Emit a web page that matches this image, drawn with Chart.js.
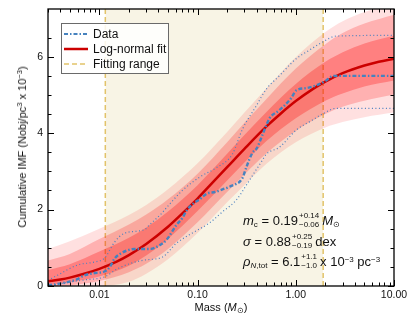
<!DOCTYPE html>
<html>
<head>
<meta charset="utf-8">
<script src="https://cdn.jsdelivr.net/npm/chart.js@4.4.1/dist/chart.umd.min.js"></script>
<style>
  body { margin: 0; background: #fff; }
  #wrap { position: relative; width: 407px; height: 326px; font-family: "Liberation Sans", Arial, sans-serif; color: #111; }
  #imfChart { position: absolute; left: 0; top: 0; }
  .ytitle { position: absolute; left: 22px; top: 147px; transform: translate(-50%, -50%) rotate(-90deg); white-space: nowrap; font-size: 11px; }
  .xtitle { position: absolute; left: 221px; top: 300px; transform: translateX(-50%); white-space: nowrap; font-size: 11px; line-height: 14px; }
  sup, sub { font-size: 7.5px; line-height: 0; }
  sup { vertical-align: 4px; }
  sub { vertical-align: -2px; }
  .legend { position: absolute; left: 61px; top: 23px; width: 108px; height: 51px; box-sizing: border-box;
            border: 1px solid #6a6a6a; background: rgba(255,255,255,0.85); padding: 2px 0 0 2px; font-size: 12px; }
  .legend .row { height: 15px; display: flex; align-items: center; white-space: nowrap; }
  .legend svg { margin-right: 5px; flex: none; }
  .note { position: absolute; left: 243px; height: 20px; line-height: 20px; white-space: nowrap; font-size: 13px; }
  .note sub, .note sup { font-size: 8px; }
  .pm { display: inline-block; vertical-align: middle; font-size: 8px; line-height: 8.5px; margin: 0 3px 0 1px; position: relative; top: -1px; }
  .pm span { display: block; }
</style>
</head>
<body>
<div id="wrap">
  <canvas id="imfChart" width="407" height="326"></canvas>
  <div class="ytitle">Cumulative IMF (Nobj/pc<sup>3</sup> x 10<sup>−3</sup>)</div>
  <div class="xtitle">Mass (<i>M</i><sub>⊙</sub>)</div>
  <div class="legend">
    <div class="row"><svg width="24" height="6"><line x1="0" y1="3" x2="24" y2="3" stroke="#4682be" stroke-width="2.2" stroke-dasharray="4 2 1.5 2"/></svg><span>Data</span></div>
    <div class="row"><svg width="24" height="6"><line x1="0" y1="3" x2="24" y2="3" stroke="#cc0000" stroke-width="2.5"/></svg><span>Log-normal fit</span></div>
    <div class="row"><svg width="24" height="6"><line x1="0" y1="3" x2="24" y2="3" stroke="#e2c36a" stroke-width="1.5" stroke-dasharray="5 3"/></svg><span>Fitting range</span></div>
  </div>
  <div class="note" style="top:211px"><i>m</i><sub>c</sub> = 0.19<span class="pm"><span>+0.14</span><span>−0.06</span></span><i>M</i><sub>⊙</sub></div>
  <div class="note" style="top:232px"><i>σ</i> = 0.88<span class="pm"><span>+0.25</span><span>−0.19</span></span>dex</div>
  <div class="note" style="top:252px"><i>ρ</i><sub><i>N</i>,tot</sub> = 6.1<span class="pm"><span>+1.1</span><span>−1.0</span></span>x 10<sup>−3</sup> pc<sup>−3</sup></div>
</div>
<script>
// axis ranges and tick labels
const xMin = 0.003, xMax = 10;
const yMin = 0, yMax = 7.25;
const xMajor = [0.01, 0.1, 1, 10];
const xLabels = ["0.01", "0.10", "1.00", "10.00"];
const yMajor = [0, 2, 4, 6];
const yLabels = ["0", "2", "4", "6"];

// fitting range (Msun)
const rangeX = [0.0115, 1.9];

// observed cumulative IMF
const dataMass = [0.003, 0.0035, 0.0047, 0.006, 0.0071, 0.009, 0.0113, 0.0128, 0.0143, 0.0165, 0.0192, 0.023, 0.033, 0.04, 0.048, 0.061, 0.07, 0.078, 0.09, 0.105, 0.125, 0.15, 0.18, 0.22, 0.286, 0.314, 0.361, 0.4, 0.457, 0.5, 0.54, 0.68, 0.9, 1.01, 1.28, 1.62, 2.04, 2.3, 2.6, 10];
const dataVal = [0.02, 0.04, 0.1, 0.18, 0.28, 0.34, 0.38, 0.5, 0.72, 0.85, 0.93, 0.97, 0.97, 1.05, 1.2, 1.6, 1.78, 1.99, 2.15, 2.27, 2.42, 2.46, 2.53, 2.62, 2.82, 3.11, 3.48, 3.6, 3.95, 4.2, 4.39, 4.6, 4.92, 5.12, 5.18, 5.25, 5.38, 5.48, 5.5, 5.5];

// dotted uncertainty envelope of the data
const upMass = [0.003, 0.0035, 0.006, 0.009, 0.0113, 0.0143, 0.018, 0.029, 0.0324, 0.043, 0.0483, 0.07, 0.105, 0.156, 0.226, 0.286, 0.397, 0.5, 0.68, 0.9, 1.01, 1.37, 1.86, 2.58, 10];
const upVal = [0.15, 0.24, 0.55, 0.63, 0.73, 1.15, 1.38, 1.48, 1.6, 1.9, 2.05, 2.5, 2.85, 3.1, 3.45, 4.1, 4.72, 5.15, 5.5, 5.83, 5.95, 6.17, 6.38, 6.54, 6.56];
const loMass = [0.003, 0.0044, 0.0071, 0.0113, 0.0153, 0.0213, 0.0289, 0.044, 0.061, 0.089, 0.132, 0.179, 0.248, 0.314, 0.397, 0.457, 0.5, 0.68, 1.01, 1.47, 1.86, 2.58, 10];
const loVal = [0.0, 0.08, 0.16, 0.24, 0.45, 0.6, 0.68, 0.76, 1.12, 1.39, 1.65, 1.94, 2.25, 2.64, 3.05, 3.29, 3.45, 3.63, 4.08, 4.34, 4.5, 4.65, 4.65];

// log-normal fit
const fitMass = [0.003, 0.004, 0.005, 0.007, 0.01, 0.015, 0.02, 0.03, 0.05, 0.07, 0.1, 0.15, 0.2, 0.3, 0.5, 0.7, 1, 1.5, 2, 3, 5, 7, 10];
const fitVal = [0.12, 0.17, 0.22, 0.32, 0.45, 0.64, 0.81, 1.10, 1.55, 1.90, 2.29, 2.77, 3.11, 3.59, 4.17, 4.51, 4.84, 5.16, 5.35, 5.57, 5.77, 5.87, 5.95];

// confidence bands around the fit
const bandMass = [0.003, 0.005, 0.01, 0.02, 0.03, 0.05, 0.1, 0.2, 0.3, 0.5, 1, 2, 3, 5, 10];
const innerHi = [0.42, 0.57, 0.90, 1.26, 1.53, 1.95, 2.64, 3.46, 3.95, 4.55, 5.29, 5.87, 6.12, 6.35, 6.55];
const innerLo = [0.02, 0.10, 0.25, 0.53, 0.80, 1.23, 1.96, 2.76, 3.23, 3.79, 4.39, 4.85, 5.04, 5.22, 5.38];
const midHi = [0.67, 0.84, 1.23, 1.61, 1.87, 2.27, 2.94, 3.76, 4.27, 4.89, 5.69, 6.33, 6.62, 6.87, 7.10];
const midLo = [0.0, 0.02, 0.13, 0.36, 0.58, 0.97, 1.67, 2.46, 2.92, 3.47, 4.06, 4.50, 4.69, 4.85, 5.01];
const outerHi = [0.97, 1.17, 1.50, 1.86, 2.12, 2.53, 3.21, 4.03, 4.54, 5.17, 5.99, 6.65, 6.93, 7.17, 7.40];
const outerLo = [0.0, 0.0, 0.0, 0.11, 0.32, 0.70, 1.39, 2.19, 2.64, 3.19, 3.76, 4.15, 4.29, 4.42, 4.54];

const pts = (xs, ys) => xs.map((x, i) => ({ x: x, y: ys[i] }));
const isMajor = (list, v) => list.some(m => Math.abs(m - v) <= 1e-9 * Math.max(1, m));

// minor log ticks 1..9 x 10^n inside the range
const xTickValues = [];
for (let e = -3; e <= 1; e++) {
  for (let s = 1; s <= 9; s++) {
    const v = Number((s * Math.pow(10, e)).toPrecision(3));
    if (v >= xMin - 1e-12 && v <= xMax + 1e-12) xTickValues.push(v);
  }
}

const band = (data, fill, color, order) => ({
  data: data, fill: fill, backgroundColor: color, borderWidth: 0, pointRadius: 0,
  cubicInterpolationMode: "monotone", order: order
});

// inward tick marks on all four sides plus the frame
const frameTicks = {
  id: "frameTicks",
  afterDraw(chart) {
    const { ctx, chartArea: a, scales } = chart;
    const x = scales.x, y = scales.y;
    ctx.save();
    ctx.strokeStyle = "#000";
    ctx.lineWidth = 1;
    ctx.beginPath();
    x.ticks.forEach(t => {
      const px = Math.round(x.getPixelForValue(t.value)) + 0.5;
      const len = isMajor(xMajor, t.value) ? 6 : 3.5;
      ctx.moveTo(px, a.bottom); ctx.lineTo(px, a.bottom - len);
      ctx.moveTo(px, a.top); ctx.lineTo(px, a.top + len);
    });
    y.ticks.forEach(t => {
      if (Math.abs(t.value * 2 - Math.round(t.value * 2)) > 1e-6) return;
      const py = Math.round(y.getPixelForValue(t.value)) + 0.5;
      const len = isMajor(yMajor, t.value) ? 6 : 3.5;
      ctx.moveTo(a.left, py); ctx.lineTo(a.left + len, py);
      ctx.moveTo(a.right, py); ctx.lineTo(a.right - len, py);
    });
    ctx.stroke();
    ctx.lineWidth = 1.3;
    ctx.strokeRect(a.left, a.top, a.right - a.left, a.bottom - a.top);
    ctx.restore();
  }
};

const ctx = document.getElementById("imfChart").getContext("2d");
new Chart(ctx, {
  type: "line",
  data: {
    datasets: [
      // shaded fitting range
      { data: pts(rangeX, [yMax, yMax]), fill: "start", backgroundColor: "#f8f4e5", borderWidth: 0, pointRadius: 0, order: 30 },
      { data: pts([rangeX[0], rangeX[0]], [yMin, yMax]), borderColor: "#e2c36a", borderDash: [5, 3], borderWidth: 1.5, pointRadius: 0, fill: false, order: 29 },
      { data: pts([rangeX[1], rangeX[1]], [yMin, yMax]), borderColor: "#e2c36a", borderDash: [5, 3], borderWidth: 1.5, pointRadius: 0, fill: false, order: 28 },
      // bands (upper fills to the next dataset)
      band(pts(bandMass, outerHi), "+1", "rgba(255,0,0,0.12)", 27),
      band(pts(bandMass, outerLo), false, "transparent", 26),
      band(pts(bandMass, midHi), "+1", "rgba(255,0,0,0.21)", 25),
      band(pts(bandMass, midLo), false, "transparent", 24),
      band(pts(bandMass, innerHi), "+1", "rgba(255,0,0,0.28)", 23),
      band(pts(bandMass, innerLo), false, "transparent", 22),
      // data envelope
      { data: pts(upMass, upVal), borderColor: "#4a7fc0", borderWidth: 1.2, borderDash: [1, 2.5], pointRadius: 0, fill: false, cubicInterpolationMode: "monotone", order: 5 },
      { data: pts(loMass, loVal), borderColor: "#4a7fc0", borderWidth: 1.2, borderDash: [1, 2.5], pointRadius: 0, fill: false, cubicInterpolationMode: "monotone", order: 5 },
      // fit and data
      { label: "Log-normal fit", data: pts(fitMass, fitVal), borderColor: "#cc0000", borderWidth: 2.5, pointRadius: 0, fill: false, cubicInterpolationMode: "monotone", order: 3 },
      { label: "Data", data: pts(dataMass, dataVal), borderColor: "#4682be", borderWidth: 2.4, borderDash: [4, 2, 1.5, 2], pointRadius: 0, fill: false, cubicInterpolationMode: "monotone", order: 2 }
    ]
  },
  options: {
    responsive: false,
    animation: false,
    layout: { padding: { left: 0, right: 13, top: 9, bottom: 0 } },
    plugins: { legend: { display: false }, tooltip: { enabled: false } },
    scales: {
      x: {
        type: "logarithmic",
        min: xMin,
        max: xMax,
        grid: { display: false, drawTicks: false },
        border: { display: false },
        afterBuildTicks: (scale) => { scale.ticks = xTickValues.map(v => ({ value: v, major: isMajor(xMajor, v) })); },
        afterFit: (scale) => { scale.height = 40; scale.paddingRight = 0; scale.paddingLeft = 0; },
        ticks: {
          autoSkip: false,
          maxRotation: 0,
          padding: 3,
          color: "#111",
          font: { family: "Liberation Sans", size: 10.5 },
          callback: (value) => {
            const i = xMajor.findIndex(m => Math.abs(m - value) <= 1e-9 * Math.max(1, m));
            return i >= 0 ? xLabels[i] : "";
          }
        }
      },
      y: {
        type: "linear",
        min: yMin,
        max: yMax,
        grid: { display: false, drawTicks: false },
        border: { display: false },
        afterFit: (scale) => { scale.width = 48; scale.paddingTop = 0; scale.paddingBottom = 0; },
        ticks: {
          stepSize: 0.5,
          autoSkip: false,
          padding: 5,
          color: "#111",
          font: { family: "Liberation Sans", size: 10.5 },
          callback: (value) => {
            const i = yMajor.findIndex(m => Math.abs(m - value) < 1e-6);
            return i >= 0 ? yLabels[i] : "";
          }
        }
      }
    }
  },
  plugins: [frameTicks]
});
</script>
</body>
</html>
